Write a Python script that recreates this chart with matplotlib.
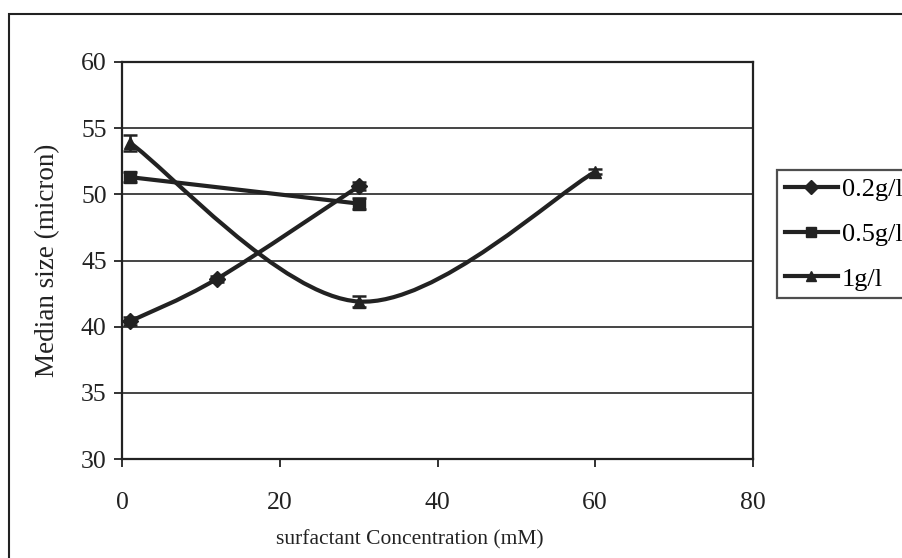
import matplotlib
matplotlib.use("Agg")
import matplotlib.pyplot as plt
from matplotlib.path import Path
from matplotlib.patches import PathPatch, Rectangle
from matplotlib.lines import Line2D
import numpy as np

plt.rcParams['font.family'] = ['Liberation Serif', 'DejaVu Serif']

series_names = ["0.2g/l", "0.5g/l", "1g/l"]
x_02 = [1, 12, 30]
y_02 = [40.4, 43.6, 50.6]
e_02 = [0.3, 0.2, 0.3]
x_05 = [1, 30]
y_05 = [51.3, 49.3]
e_05 = [0.4, 0.4]
x_1 = [1, 30, 60]
y_1 = [53.9, 41.9, 51.7]
e_1 = [0.6, 0.4, 0.2]
markers = ["D", "s", "^"]
x_ticks = [0, 20, 40, 60, 80]
y_ticks = [30, 35, 40, 45, 50, 55, 60]

col = "#222222"

fig = plt.figure(figsize=(9.03, 5.58), dpi=100)
ax = fig.add_axes([122/903, 1-459/558, (753-122)/903, (459-62)/558])

def smooth_path(xs, ys):
    xs = np.asarray(xs, float); ys = np.asarray(ys, float)
    n = len(xs)
    verts = [(xs[0], ys[0])]
    codes = [Path.MOVETO]
    for i in range(n - 1):
        p0 = (xs[max(i-1, 0)], ys[max(i-1, 0)])
        p1 = (xs[i], ys[i]); p2 = (xs[i+1], ys[i+1])
        p3 = (xs[min(i+2, n-1)], ys[min(i+2, n-1)])
        c1 = (p1[0] + (p2[0]-p0[0])/6, p1[1] + (p2[1]-p0[1])/6)
        c2 = (p2[0] - (p3[0]-p1[0])/6, p2[1] - (p3[1]-p1[1])/6)
        verts += [c1, c2, p2]
        codes += [Path.CURVE4]*3
    return Path(verts, codes)

data = [(x_02, y_02, e_02), (x_05, y_05, e_05), (x_1, y_1, e_1)]
for (xs, ys, es), m in zip(data, markers):
    ax.add_patch(PathPatch(smooth_path(xs, ys), facecolor='none', edgecolor=col, lw=3.0, zorder=3,
                           capstyle='round', joinstyle='round'))
    ax.errorbar(xs, ys, yerr=es, fmt=m, color=col, ms=8, capsize=5, elinewidth=1.8, capthick=1.8, zorder=4)

ax.set_xlim(0, 80)
ax.set_ylim(30, 60)
ax.set_xticks(x_ticks)
ax.set_yticks(y_ticks)
ax.tick_params(direction='out', length=6, width=1.3, labelsize=18.5, color=col, labelcolor=col)
ax.tick_params(axis='x', pad=18)
ax.tick_params(axis='y', pad=5)
ax.yaxis.grid(True, color='#444444', lw=1.4)
ax.set_axisbelow(True)
for s in ax.spines.values():
    s.set_color(col); s.set_linewidth(1.6)

fig.text(48/903, 1-260/558, "Median size (micron)", fontsize=19.5, color=col, ha='center', va='center',
         rotation=90)
fig.text(410/903, 1-540/558, "surfactant Concentration (mM)", fontsize=15.5, color=col,
         ha='center', va='center')

handles = [Line2D([0], [0], color=col, lw=3.0, marker=m, ms=7) for m in markers]
leg = fig.legend(handles, series_names, loc='upper left', bbox_to_anchor=(777/903, 1-170/558),
                 frameon=True, fancybox=False, edgecolor=col, fontsize=19, handlelength=2.0,
                 handletextpad=0.15, labelspacing=0.8, borderpad=0.3, borderaxespad=0)
leg.get_frame().set_linewidth(1.6)

fig.add_artist(Rectangle((9/903, -0.05), 1.2, 1-14/558+0.05, transform=fig.transFigure,
                         fill=False, edgecolor=col, lw=1.5))

fig.savefig("out.png", dpi=100)
